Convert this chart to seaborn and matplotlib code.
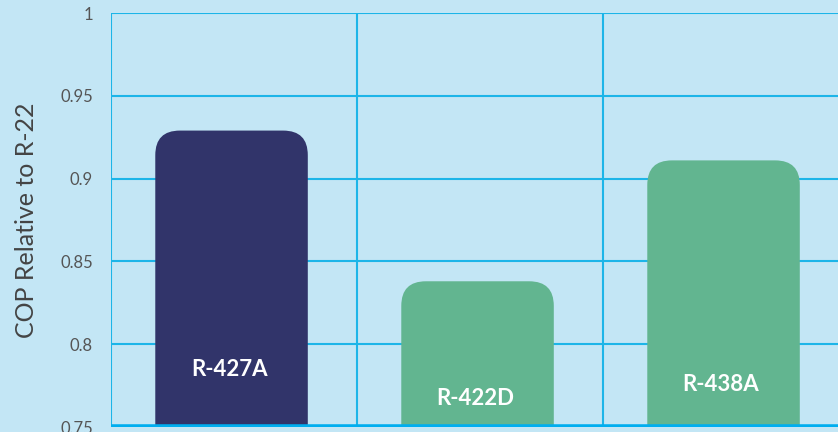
import matplotlib
matplotlib.use("Agg")
import matplotlib.pyplot as plt
import seaborn as sns
import pandas as pd
from matplotlib.patches import FancyBboxPatch

# values
refrigerants = ["R-427A", "R-422D", "R-438A"]
cop_relative = [0.929, 0.838, 0.911]
bar_colors = ["#31346A", "#62B590", "#62B590"]
label_y = [0.7845, 0.7675, 0.7755]
y_ticks = [0.75, 0.8, 0.85, 0.9, 0.95, 1]

BG = "#C3E6F5"
GRID = "#1DB5E8"

sns.set_theme(style="white")
plt.rcParams["font.family"] = ["Lato", "DejaVu Sans"]

df = pd.DataFrame({"refrigerant": refrigerants, "cop": cop_relative})

fig = plt.figure(figsize=(8.38, 4.32), dpi=100, facecolor=BG)
ax = fig.add_axes([111 / 838, 5 / 432, 738 / 838, 414 / 432])
ax.set_facecolor(BG)

sns.barplot(data=df, x="refrigerant", y="cop", hue="refrigerant",
            palette=bar_colors, saturation=1, width=0.62, legend=False, ax=ax)

ax.set_xlim(-0.5, 2.5)
ax.set_ylim(0.75, 1.0)

# swap the plain bars for bars with rounded tops
for p in list(ax.patches):
    x, w, h = p.get_x(), p.get_width(), p.get_height()
    fc = p.get_facecolor()
    p.remove()
    rb = FancyBboxPatch((x - 0.01, 0), w, h,
                        boxstyle="round,pad=0,rounding_size=0.1",
                        mutation_aspect=246 / 1656,
                        facecolor=fc, edgecolor="none", zorder=3)
    ax.add_patch(rb)

# grid lines
for yv in y_ticks[1:]:
    ax.axhline(yv, color=GRID, lw=1.5, zorder=1)
for xv in [-0.5, 0.5, 1.5]:
    ax.axvline(xv, color=GRID, lw=1.5, zorder=1)
ax.axhline(0.75, color="#00AEEF", lw=4, zorder=4)

for i, name in enumerate(refrigerants):
    ax.text(i - 0.02, label_y[i], name, color="white", fontsize=16,
            fontweight="bold", ha="center", va="center", zorder=5)

for s in ax.spines.values():
    s.set_visible(False)

ax.set_yticks(y_ticks)
ax.set_yticklabels(["0.75", "0.8", "0.85", "0.9", "0.95", "1"])
ax.tick_params(axis="y", length=0, pad=13, labelsize=12, labelcolor="#555555")
ax.set_xticks([])
ax.set_xlabel("")
ax.set_ylabel("COP Relative to R-22", fontsize=18, color="#444444",
              labelpad=16)

plt.savefig("out.png", dpi=100, facecolor=BG)
plt.close()
